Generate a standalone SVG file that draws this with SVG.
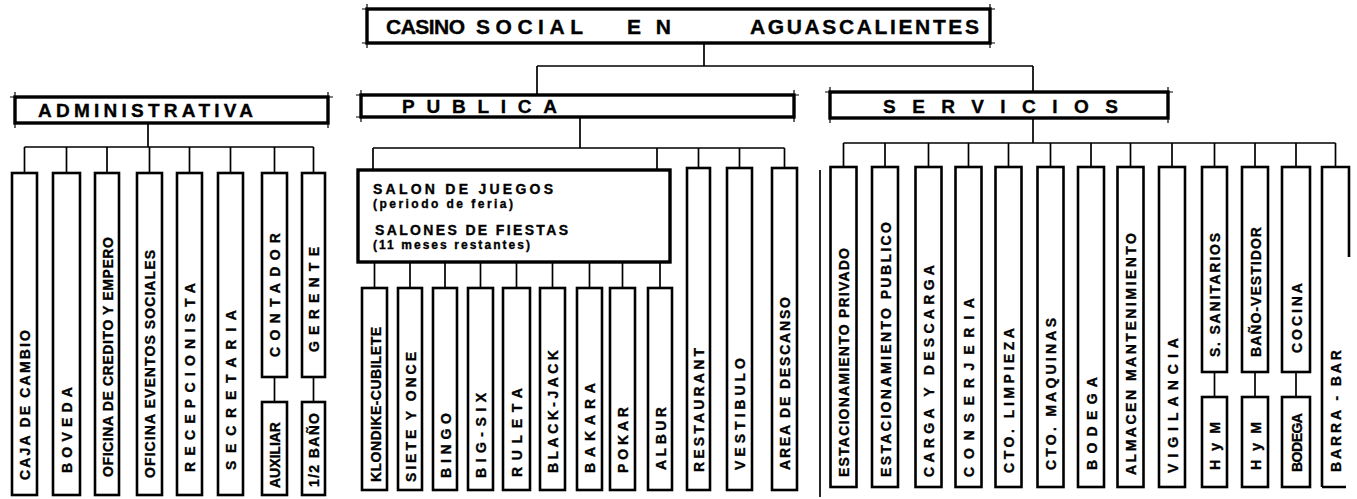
<svg xmlns="http://www.w3.org/2000/svg" width="1357" height="499" viewBox="0 0 1357 499">
<style>
.box{fill:#fff;stroke:#000;stroke-width:2.6}
.open{fill:none;stroke:#000;stroke-width:2.6}
.sec{fill:#fff;stroke:#000;stroke-width:3.4}
.tick{fill:none;stroke:#000;stroke-width:1.2}
.con path{fill:none;stroke:#000;stroke-width:1.7}
text{font-family:"Liberation Sans",Arial,sans-serif;font-weight:bold;fill:#000;stroke:#000;stroke-width:0.35}
.v{font-size:14px}
.h{font-size:19px}
.t{font-size:21px}
.s{font-size:14px}
.p{font-size:12px}
</style>
<rect width="1357" height="499" fill="#fff"/>

<g id="connectors" class="con">
<path d="M704 43V66M537 66H1033M537 66V95M1033 66V92"/>
<path d="M148 123V147M24.5 147H313.5M24.5 147V173M66.5 147V173M107 147V173M149.5 147V173M189.5 147V173M230.5 147V173M274.5 147V173M313.5 147V173"/>
<path d="M274.5 377V402M313.5 377V402"/>
<path d="M580 117V148M373 148H784.5M373 148V170M657 148V170M698.5 148V168M739.5 148V168M784.5 148V168"/>
<path d="M374.5 262V288M410 262V288M445 262V288M480.5 262V288M516.5 262V288M552.5 262V288M589.5 262V288M622.5 262V288M660 262V288"/>
<path d="M1033 118V143M843.5 143H1335.5M843.5 143V167M885 143V167M928.5 143V167M968.5 143V167M1008.5 143V167M1050.5 143V167M1091 143V167M1130.5 143V167M1172 143V167M1214.5 143V167M1255 143V167M1296 143V167M1335.5 143V167"/>
<path d="M1214.5 372V397M1255 372V397M1296 372V397"/>
<path d="M820 170V497"/>
</g>

<g id="title">
<rect class="sec" x="367" y="9" width="623" height="34"/>
<path class="tick" d="M362 9H995M362 43H995M367 4V48M990 4V48"/>
<text class="t" x="386" y="34" textLength="79" lengthAdjust="spacing">CASINO</text>
<text class="t" x="476" y="34" textLength="107" lengthAdjust="spacing">SOCIAL</text>
<text class="t" x="627" y="34" textLength="44" lengthAdjust="spacing">EN</text>
<text class="t" x="750" y="34" textLength="229" lengthAdjust="spacing">AGUASCALIENTES</text>
</g>

<g id="administrativa">
<rect class="sec" x="15" y="97" width="313" height="26"/>
<path class="tick" d="M10 97H333M15 92V128M328 92V128"/>
<text class="h" x="38" y="117" textLength="215" lengthAdjust="spacing">ADMINISTRATIVA</text>
</g>
<g id="publica">
<rect class="sec" x="361" y="95" width="433" height="22"/>
<path class="tick" d="M356 95H799M356 117H364M361 90V122M794 90V122"/>
<text class="h" x="402" y="113" textLength="155" lengthAdjust="spacing">PUBLICA</text>
</g>
<g id="servicios">
<rect class="sec" x="830" y="92" width="338" height="26"/>
<path class="tick" d="M825 92H1173M830 87V123M1168 87V123"/>
<text class="h" x="883" y="113" textLength="235" lengthAdjust="spacing">SERVICIOS</text>
</g>

<!-- Administrativa children -->
<g id="caja"><rect class="box" x="12" y="173" width="25" height="322"/><text class="v" transform="translate(25,480) rotate(-90)" y="5" textLength="150" lengthAdjust="spacing">CAJA DE CAMBIO</text></g>
<g id="boveda"><rect class="box" x="53" y="173" width="27" height="322"/><text class="v" transform="translate(67,473) rotate(-90)" y="5" textLength="86" lengthAdjust="spacing">BOVEDA</text></g>
<g id="oficina-credito"><rect class="box" x="95" y="173" width="24" height="322"/><text class="v" transform="translate(107.5,477) rotate(-90)" y="5" textLength="240" lengthAdjust="spacing">OFICINA DE CREDITO Y EMPERO</text></g>
<g id="oficina-eventos"><rect class="box" x="137" y="173" width="25" height="322"/><text class="v" transform="translate(150,478) rotate(-90)" y="5" textLength="228" lengthAdjust="spacing">OFICINA EVENTOS SOCIALES</text></g>
<g id="recepcionista"><rect class="box" x="177" y="173" width="25" height="322"/><text class="v" transform="translate(190,472) rotate(-90)" y="5" textLength="189" lengthAdjust="spacing">RECEPCIONISTA</text></g>
<g id="secretaria"><rect class="box" x="218" y="173" width="25" height="322"/><text class="v" transform="translate(231,470) rotate(-90)" y="5" textLength="160" lengthAdjust="spacing">SECRETARIA</text></g>
<g id="contador"><rect class="box" x="262" y="173" width="25" height="204"/><text class="v" transform="translate(275,357) rotate(-90)" y="5" textLength="124" lengthAdjust="spacing">CONTADOR</text></g>
<g id="gerente"><rect class="box" x="302" y="173" width="23" height="204"/><text class="v" transform="translate(314,352) rotate(-90)" y="5" textLength="105" lengthAdjust="spacing">GERENTE</text></g>
<g id="auxiliar"><rect class="box" x="262" y="402" width="25" height="93"/><text class="v" transform="translate(275,488) rotate(-90)" y="5" textLength="66" lengthAdjust="spacing">AUXILIAR</text></g>
<g id="medio-bano"><rect class="box" x="302" y="402" width="23" height="93"/><text class="v" transform="translate(314,487) rotate(-90)" y="5" textLength="74" lengthAdjust="spacing">1/2 BAÑO</text></g>

<!-- Publica children -->
<g id="salon">
<rect class="sec" x="358" y="170" width="312" height="92"/>
<text class="s" x="373" y="194" textLength="180" lengthAdjust="spacing">SALON DE JUEGOS</text>
<text class="p" x="373" y="208" textLength="140" lengthAdjust="spacing">(periodo de feria)</text>
<text class="s" x="375" y="235" textLength="193" lengthAdjust="spacing">SALONES DE FIESTAS</text>
<text class="p" x="373" y="249" textLength="157" lengthAdjust="spacing">(11 meses restantes)</text>
</g>
<g id="klondike"><rect class="box" x="362" y="288" width="25" height="202"/><text class="v" transform="translate(375.5,482) rotate(-90)" y="5" textLength="155" lengthAdjust="spacing">KLONDIKE-CUBILETE</text></g>
<g id="siete-y-once"><rect class="box" x="398" y="288" width="24" height="202"/><text class="v" transform="translate(410.5,482) rotate(-90)" y="5" textLength="130" lengthAdjust="spacing">SIETE Y ONCE</text></g>
<g id="bingo"><rect class="box" x="433" y="288" width="24" height="202"/><text class="v" transform="translate(445.5,478) rotate(-90)" y="5" textLength="65" lengthAdjust="spacing">BINGO</text></g>
<g id="big-six"><rect class="box" x="468" y="288" width="25" height="202"/><text class="v" transform="translate(481,478) rotate(-90)" y="5" textLength="85" lengthAdjust="spacing">BIG-SIX</text></g>
<g id="ruleta"><rect class="box" x="503" y="288" width="27" height="202"/><text class="v" transform="translate(517,477) rotate(-90)" y="5" textLength="89" lengthAdjust="spacing">RULETA</text></g>
<g id="black-jack"><rect class="box" x="540" y="288" width="25" height="202"/><text class="v" transform="translate(553,473) rotate(-90)" y="5" textLength="123" lengthAdjust="spacing">BLACK-JACK</text></g>
<g id="bakara"><rect class="box" x="577" y="288" width="25" height="202"/><text class="v" transform="translate(590,473) rotate(-90)" y="5" textLength="90" lengthAdjust="spacing">BAKARA</text></g>
<g id="pokar"><rect class="box" x="610" y="288" width="25" height="202"/><text class="v" transform="translate(623,473) rotate(-90)" y="5" textLength="66" lengthAdjust="spacing">POKAR</text></g>
<g id="albur"><rect class="box" x="648" y="288" width="24" height="202"/><text class="v" transform="translate(660.5,470) rotate(-90)" y="5" textLength="63" lengthAdjust="spacing">ALBUR</text></g>
<g id="restaurant"><rect class="box" x="687" y="168" width="23" height="322"/><text class="v" transform="translate(699,472) rotate(-90)" y="5" textLength="124" lengthAdjust="spacing">RESTAURANT</text></g>
<g id="vestibulo"><rect class="box" x="727" y="168" width="25" height="322"/><text class="v" transform="translate(740,470) rotate(-90)" y="5" textLength="112" lengthAdjust="spacing">VESTIBULO</text></g>
<g id="area-descanso"><rect class="box" x="772" y="168" width="25" height="322"/><text class="v" transform="translate(785,470) rotate(-90)" y="5" textLength="173" lengthAdjust="spacing">AREA DE DESCANSO</text></g>

<!-- Servicios children -->
<g id="est-privado"><rect class="box" x="830.5" y="167" width="26" height="320"/><text class="v" transform="translate(844,477) rotate(-90)" y="5" textLength="229" lengthAdjust="spacing">ESTACIONAMIENTO PRIVADO</text></g>
<g id="est-publico"><rect class="box" x="872" y="167" width="26" height="320"/><text class="v" transform="translate(885.5,477) rotate(-90)" y="5" textLength="255" lengthAdjust="spacing">ESTACIONAMIENTO PUBLICO</text></g>
<g id="carga"><rect class="box" x="915.5" y="167" width="26" height="320"/><text class="v" transform="translate(929,477) rotate(-90)" y="5" textLength="212" lengthAdjust="spacing">CARGA Y DESCARGA</text></g>
<g id="conserjeria"><rect class="box" x="955.5" y="167" width="26" height="320"/><text class="v" transform="translate(969,477) rotate(-90)" y="5" textLength="179" lengthAdjust="spacing">CONSERJERIA</text></g>
<g id="cto-limpieza"><rect class="box" x="995.5" y="167" width="26" height="320"/><text class="v" transform="translate(1009,473) rotate(-90)" y="5" textLength="145" lengthAdjust="spacing">CTO. LIMPIEZA</text></g>
<g id="cto-maquinas"><rect class="box" x="1037.5" y="167" width="26" height="320"/><text class="v" transform="translate(1051,470) rotate(-90)" y="5" textLength="152" lengthAdjust="spacing">CTO. MAQUINAS</text></g>
<g id="bodega"><rect class="box" x="1078" y="167" width="26" height="320"/><text class="v" transform="translate(1091.5,470) rotate(-90)" y="5" textLength="93" lengthAdjust="spacing">BODEGA</text></g>
<g id="almacen"><rect class="box" x="1117.5" y="167" width="26" height="320"/><text class="v" transform="translate(1131,475) rotate(-90)" y="5" textLength="242" lengthAdjust="spacing">ALMACEN MANTENIMIENTO</text></g>
<g id="vigilancia"><rect class="box" x="1159" y="167" width="26" height="320"/><text class="v" transform="translate(1172.5,473) rotate(-90)" y="5" textLength="135" lengthAdjust="spacing">VIGILANCIA</text></g>
<g id="s-sanitarios"><rect class="box" x="1202" y="167" width="25" height="205"/><text class="v" transform="translate(1215,357) rotate(-90)" y="5" textLength="124" lengthAdjust="spacing">S. SANITARIOS</text></g>
<g id="hym-1"><rect class="box" x="1202" y="397" width="25" height="90"/><text class="v" transform="translate(1215,470) rotate(-90)" y="5" textLength="48" lengthAdjust="spacing">H y M</text></g>
<g id="bano-vestidor"><rect class="box" x="1242" y="167" width="26" height="205"/><text class="v" transform="translate(1255.5,357) rotate(-90)" y="5" textLength="130" lengthAdjust="spacing">BAÑO-VESTIDOR</text></g>
<g id="hym-2"><rect class="box" x="1242" y="397" width="26" height="90"/><text class="v" transform="translate(1255.5,470) rotate(-90)" y="5" textLength="48" lengthAdjust="spacing">H y M</text></g>
<g id="cocina"><rect class="box" x="1282" y="167" width="28" height="205"/><text class="v" transform="translate(1296.5,353) rotate(-90)" y="5" textLength="70" lengthAdjust="spacing">COCINA</text></g>
<g id="bodega-cocina"><rect class="box" x="1282" y="397" width="28" height="90"/><text class="v" transform="translate(1296.5,472) rotate(-90)" y="5" textLength="59" lengthAdjust="spacing">BODEGA</text></g>
<g id="barra-bar"><path class="open" d="M1322 487V167H1349V257M1322 487H1346"/><text class="v" transform="translate(1336,472) rotate(-90)" y="5" textLength="122" lengthAdjust="spacing">BARRA - BAR</text></g>
</svg>
